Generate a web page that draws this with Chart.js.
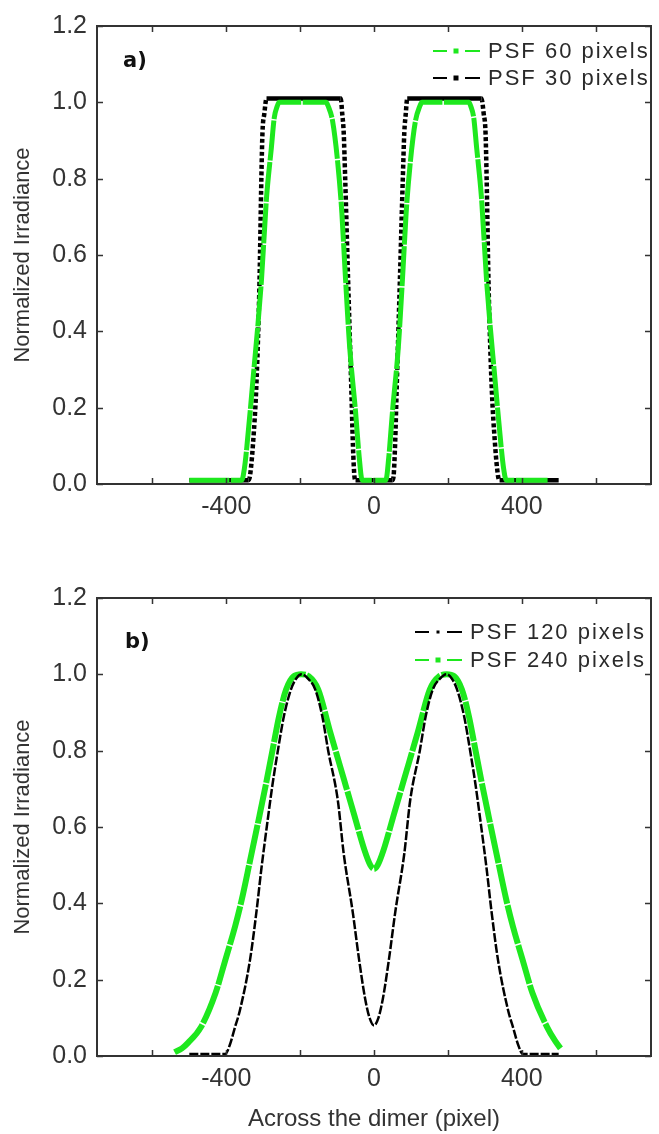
<!DOCTYPE html>
<html>
<head>
<meta charset="utf-8">
<script src="https://cdn.jsdelivr.net/npm/chart.js@4.4.1/dist/chart.umd.min.js"></script>
<style>
html,body{margin:0;padding:0;background:#fff;width:659px;height:1134px;overflow:hidden;}
#wrapA{position:absolute;left:0;top:0;width:659px;height:560px;}
#wrapB{position:absolute;left:0;top:560px;width:659px;height:574px;}
</style>
</head>
<body>
<div id="wrapA"><canvas id="chartA"></canvas></div>
<div id="wrapB"><canvas id="chartB"></canvas></div>
<script>
// ---------- tick / label data ----------
const xTickValues = [-600, -400, -200, 0, 200, 400, 600];
const xLabelValues = [-400, 0, 400];
const yTickValues = [0, 0.2, 0.4, 0.6, 0.8, 1.0, 1.2];
const namesA = ['PSF 60 pixels', 'PSF 30 pixels'];
const namesB = ['PSF 120 pixels', 'PSF 240 pixels'];
const panelLabels = ['a)', 'b)'];
const xTitle = 'Across the dimer (pixel)';
const yTitle = 'Normalized Irradiance';

// ---------- panel a) ----------
const psf60X = [-500, -358, -351, -344, -328, -305, -291, -278, -270, -262, -257, -130, -124, -112, -98, -87, -79, -66, -50, -40, -32,
                32, 40, 50, 66, 79, 87, 98, 112, 124, 130, 257, 262, 270, 278, 291, 305, 328, 344, 351, 358, 470];
const psf60Y = [0.01, 0.01, 0.04, 0.10, 0.27, 0.53, 0.75, 0.88, 0.96, 0.99, 1.00, 1.00, 0.99, 0.95, 0.84, 0.71, 0.57, 0.36, 0.19, 0.07, 0.01,
                0.01, 0.07, 0.19, 0.36, 0.57, 0.71, 0.84, 0.95, 0.99, 1.00, 1.00, 0.99, 0.96, 0.88, 0.75, 0.53, 0.27, 0.10, 0.04, 0.01, 0.01];
const psf30X = [-500, -340, -336, -328, -318, -310, -305, -302, -297, -291, -90, -86, -82, -78, -70, -62, -57, -53, -50,
                50, 53, 57, 62, 70, 78, 82, 86, 90, 291, 297, 302, 305, 310, 318, 328, 336, 340, 500];
const psf30Y = [0.01, 0.01, 0.02, 0.10, 0.27, 0.53, 0.80, 0.92, 0.97, 1.01, 1.01, 0.97, 0.92, 0.80, 0.53, 0.27, 0.10, 0.02, 0.01,
                0.01, 0.02, 0.10, 0.27, 0.53, 0.80, 0.92, 0.97, 1.01, 1.01, 0.97, 0.92, 0.80, 0.53, 0.27, 0.10, 0.02, 0.01, 0.01];

// ---------- panel b) ----------
const psf120X = [-500, -403, -390, -378, -363, -336, -318, -305, -289, -275, -262, -244, -225, -210, -196, -180, -159, -140, -124, -98, -82, -58, -40, -24, -12, 0,
                 12, 24, 40, 58, 82, 98, 124, 140, 159, 180, 196, 210, 225, 244, 262, 275, 289, 305, 318, 336, 363, 378, 390, 403, 500];
const psf120Y = [0.005, 0.005, 0.03, 0.07, 0.12, 0.25, 0.38, 0.49, 0.61, 0.71, 0.79, 0.89, 0.96, 0.99, 1.00, 0.99, 0.96, 0.89, 0.80, 0.67, 0.53, 0.38, 0.25, 0.15, 0.10, 0.08,
                 0.10, 0.15, 0.25, 0.38, 0.53, 0.67, 0.80, 0.89, 0.96, 0.99, 1.00, 0.99, 0.96, 0.89, 0.79, 0.71, 0.61, 0.49, 0.38, 0.25, 0.12, 0.07, 0.03, 0.005, 0.005];
const psf240X = [-540, -520, -503, -469, -429, -403, -376, -358, -336, -310, -291, -275, -257, -238, -217, -197, -177, -151, -119, -80, -53, -26, -10, 0,
                 10, 26, 53, 80, 119, 151, 177, 197, 217, 238, 257, 275, 291, 310, 336, 358, 376, 403, 429, 469, 490, 505];
const psf240Y = [0.01, 0.02, 0.035, 0.075, 0.165, 0.25, 0.34, 0.41, 0.51, 0.63, 0.72, 0.80, 0.89, 0.96, 0.995, 1.00, 0.995, 0.96, 0.85, 0.72, 0.63, 0.54, 0.50, 0.49,
                 0.50, 0.54, 0.63, 0.72, 0.85, 0.96, 0.995, 1.00, 0.995, 0.96, 0.89, 0.80, 0.72, 0.63, 0.51, 0.41, 0.34, 0.25, 0.165, 0.075, 0.04, 0.02];

const GREEN = '#1ee81e';
const BLACK = '#000000';
const AXIS = '#333333';
const FONT = '"Liberation Sans", Arial, sans-serif';

function pts(xs, ys) { return xs.map((x, i) => ({x: x, y: ys[i]})); }

// frame, inward ticks, panel label and legend
const framePlugin = {
  id: 'frame',
  afterDatasetsDraw(chart, args, opts) {
    const {ctx, chartArea: a, scales: {x, y}} = chart;
    ctx.save();
    ctx.strokeStyle = AXIS;
    ctx.lineWidth = 2;
    ctx.strokeRect(a.left, a.top, a.right - a.left, a.bottom - a.top);
    ctx.lineWidth = 1.5;
    ctx.beginPath();
    xTickValues.forEach(v => {
      const px = Math.round(x.getPixelForValue(v)) + 0.5;
      ctx.moveTo(px, a.bottom); ctx.lineTo(px, a.bottom - 6);
      ctx.moveTo(px, a.top); ctx.lineTo(px, a.top + 6);
    });
    yTickValues.forEach(v => {
      const py = Math.round(y.getPixelForValue(v)) + 0.5;
      ctx.moveTo(a.left, py); ctx.lineTo(a.left + 6, py);
      ctx.moveTo(a.right, py); ctx.lineTo(a.right - 6, py);
    });
    ctx.stroke();

    // panel label
    ctx.font = 'bold 21px "DejaVu Sans", sans-serif';
    ctx.fillStyle = '#111';
    ctx.textBaseline = 'middle';
    ctx.textAlign = 'left';
    ctx.fillText(opts.panel, opts.panelX, opts.panelY);

    // legend
    const L = opts.legend;
    chart.data.datasets.forEach((ds, i) => {
      const yy = L.ys[i];
      const x0 = L.x0;
      ctx.strokeStyle = ds.borderColor;
      ctx.fillStyle = ds.borderColor;
      ctx.lineWidth = 2;
      ctx.setLineDash([]);
      ctx.beginPath();
      ctx.moveTo(x0, yy); ctx.lineTo(x0 + 14, yy);
      ctx.moveTo(x0 + 32, yy); ctx.lineTo(x0 + 47, yy);
      ctx.stroke();
      const s = L.sq[i];
      ctx.fillRect(x0 + 23 - s / 2, yy - s / 2, s, s);
      ctx.fillStyle = '#2a2a2a';
      ctx.font = '22px ' + FONT;
      ctx.letterSpacing = '2px';
      ctx.fillText(ds.label, L.textX, yy + 1);
      ctx.letterSpacing = '0px';
    });
    ctx.restore();
  }
};

function makeChart(id, datasets, o) {
  return new Chart(document.getElementById(id), {
    type: 'line',
    data: {datasets: datasets},
    options: {
      responsive: true,
      maintainAspectRatio: false,
      animation: false,
      events: [],
      layout: {padding: {top: o.padTop, right: 3, left: 0, bottom: 0}},
      elements: {point: {radius: 0}},
      plugins: {
        legend: {display: false},
        tooltip: {enabled: false},
        frame: {panel: o.panel, panelX: o.panelX, panelY: o.panelY, legend: o.legend}
      },
      scales: {
        x: {
          type: 'linear', min: -750, max: 750,
          grid: {display: false, drawTicks: false},
          border: {display: false},
          ticks: {
            stepSize: 200, autoSkip: false, maxRotation: 0, minRotation: 0, padding: 8,
            color: AXIS, font: {family: FONT, size: 25},
            callback: v => xLabelValues.includes(v) ? String(v) : ''
          },
          title: {display: o.showXTitle, text: xTitle, color: AXIS, font: {family: FONT, size: 24}, padding: {top: 0, bottom: 0}},
          afterFit: s => { s.height = o.xHeight; }
        },
        y: {
          type: 'linear', min: 0, max: 1.2,
          grid: {display: false, drawTicks: false},
          border: {display: false},
          ticks: {
            stepSize: 0.2, padding: 10, color: AXIS, font: {family: FONT, size: 25},
            callback: v => Number(v).toFixed(1)
          },
          title: {display: true, text: yTitle, color: AXIS, font: {family: FONT, size: 22}, padding: {top: 10, bottom: 0}},
          afterFit: s => { s.width = 97; }
        }
      }
    },
    plugins: [framePlugin]
  });
}

const steepDots = ctx => (Math.abs(ctx.p1.y - ctx.p0.y) > 2 * Math.abs(ctx.p1.x - ctx.p0.x)) ? [4, 2.5] : undefined;

makeChart('chartA', [
  {label: namesA[0], data: pts(psf60X, psf60Y), borderColor: GREEN, borderWidth: 5, borderDash: [40, 1.5],
   cubicInterpolationMode: 'monotone', fill: false, borderJoinStyle: 'round'},
  {label: namesA[1], data: pts(psf30X, psf30Y), borderColor: BLACK, borderWidth: 4.5, borderDash: [],
   cubicInterpolationMode: 'monotone', fill: false, segment: {borderDash: steepDots}}
], {padTop: 26, xHeight: 76, showXTitle: false, panel: panelLabels[0], panelX: 123, panelY: 62,
    legend: {x0: 433, textX: 488, ys: [51, 78], sq: [5, 5]}});

makeChart('chartB', [
  {label: namesB[0], data: pts(psf120X, psf120Y), borderColor: BLACK, borderWidth: 2.5, borderDash: [9, 2],
   cubicInterpolationMode: 'monotone', fill: false},
  {label: namesB[1], data: pts(psf240X, psf240Y), borderColor: GREEN, borderWidth: 6, borderDash: [40, 1.5],
   cubicInterpolationMode: 'monotone', fill: false}
], {padTop: 38, xHeight: 78, showXTitle: true, panel: panelLabels[1], panelX: 125, panelY: 83,
    legend: {x0: 415, textX: 470, ys: [72, 100], sq: [3, 5]}});
</script>
</body>
</html>
